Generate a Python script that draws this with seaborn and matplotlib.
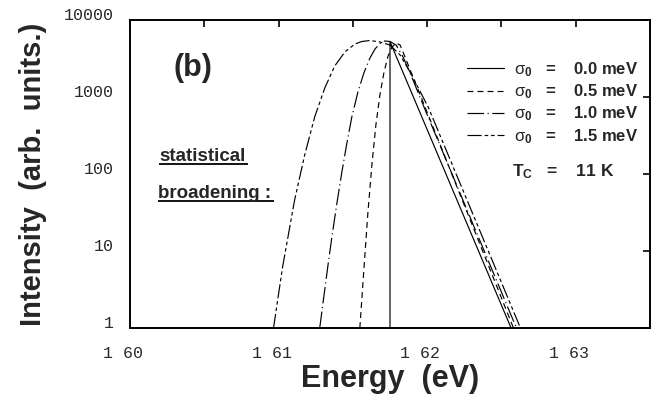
import matplotlib

matplotlib.use("Agg")

import matplotlib.pyplot as plt
import matplotlib.transforms as mtransforms
import pandas as pd
import seaborn as sns
from matplotlib.font_manager import FontProperties
from matplotlib.ticker import NullLocator


# values: energy (eV) and intensity (arb. units) per curve
SIGMA_LABELS = ["0.0", "0.5", "1.0", "1.5"]

E_S00 = [1.6175, 1.6175, 1.62565]
I_S00 = [1, 5230, 1]

E_S05 = [1.61547, 1.61574, 1.61601, 1.61628, 1.61655, 1.61682, 1.61710,
         1.61737, 1.61764, 1.61791, 1.61818, 1.61851, 1.62581]
I_S05 = [1, 5.7, 31, 131, 433, 1060, 2110, 3410, 4460, 5030, 4730, 3310, 1]

E_S10 = [1.61277, 1.61304, 1.61331, 1.61358, 1.61392, 1.61426, 1.61460,
         1.61493, 1.61534, 1.61574, 1.61615, 1.61649, 1.61682, 1.61716,
         1.61750, 1.61791, 1.61838, 1.61899, 1.61987, 1.62601]
I_S10 = [1, 2.5, 6.2, 14.8, 41, 106, 253, 550, 1160, 2050, 3210, 4200, 4950,
         5340, 5260, 4730, 3310, 1770, 678, 1]

E_S15 = [1.60966, 1.61027, 1.61108, 1.61176, 1.61243, 1.61311, 1.61378,
         1.61446, 1.61514, 1.61561, 1.61615, 1.61682, 1.61750, 1.61818,
         1.61885, 1.62007, 1.62628]
I_S15 = [1, 6.2, 46, 177, 550, 1310, 2530, 3840, 4880, 5260, 5420, 5180,
         4730, 3510, 2110, 741, 1]

X_TICKS = [1.600, 1.605, 1.610, 1.615, 1.620, 1.625, 1.630, 1.635]
X_TICK_LABELS = ["1 60", "", "1 61", "", "1 62", "", "1 63", ""]
Y_TICKS = [1, 10, 100, 1000, 10000]
Y_TICK_LABELS = ["1", "10", "100", "1000", "10000"]
TC_TEXT = "11 K"


def sigma_label(value: str) -> str:
    return r"$\mathrm{\sigma}_\mathbf{0}$   =    " + value + " meV"


def underline(ax, text) -> None:
    ax.figure.canvas.draw()
    bb = text.get_window_extent()
    inv = ax.transAxes.inverted()
    (x0, y0), (x1, _) = inv.transform([(bb.x0, bb.y0 + 1), (bb.x1 + 3, bb.y0 + 1)])
    ax.plot([x0, x1], [y0, y0], transform=ax.transAxes, color="black", lw=1.3,
            clip_on=False, solid_capstyle="butt")


def main() -> None:
    sns.set_theme(style="white")
    plt.rcParams["font.family"] = ["Liberation Sans", "DejaVu Sans"]
    plt.rcParams["mathtext.fontset"] = "custom"
    plt.rcParams["mathtext.rm"] = "Liberation Sans"
    plt.rcParams["mathtext.bf"] = "Liberation Sans:bold"
    plt.rcParams["mathtext.it"] = "Liberation Sans:italic"

    curves = [(E_S00, I_S00), (E_S05, I_S05), (E_S10, I_S10), (E_S15, I_S15)]
    frames = []
    for value, (energy, intensity) in zip(SIGMA_LABELS, curves):
        frames.append(pd.DataFrame({"energy": energy, "intensity": intensity,
                                    "curve": sigma_label(value)}))
    df = pd.concat(frames, ignore_index=True)
    order = [sigma_label(v) for v in SIGMA_LABELS]
    dashes = dict(zip(order, ["", (5, 3.5), (14, 3, 1, 3), (12, 2.5, 3, 2.5, 3, 2.5)]))

    fig = plt.figure(figsize=(6.66, 4.07), dpi=100)
    ax = fig.add_axes([130 / 666, 1 - 328 / 407, 520 / 666, 308 / 407])
    ax.set_yscale("log")

    sns.lineplot(data=df, x="energy", y="intensity", style="curve",
                 style_order=order, dashes=dashes, color="black", linewidth=0.85,
                 sort=False, estimator=None, ax=ax)

    ax.set_xlim(1.600, 1.635)
    ax.set_ylim(1, 10000)
    ax.set_xticks(X_TICKS)
    ax.set_xticklabels(X_TICK_LABELS)
    ax.set_yticks(Y_TICKS)
    ax.set_yticklabels(Y_TICK_LABELS)
    ax.yaxis.set_minor_locator(NullLocator())
    ax.xaxis.set_minor_locator(NullLocator())

    for side in ["left", "right", "top", "bottom"]:
        ax.spines[side].set_visible(True)
        ax.spines[side].set_color("black")
        ax.spines[side].set_linewidth(1.4)
    ax.tick_params(axis="both", which="major", direction="in", length=5, width=1.2,
                   color="black", top=True, right=True, labelsize=12,
                   labelcolor="#2a2a2a")
    ax.tick_params(axis="x", pad=13)
    ax.tick_params(axis="y", pad=12)

    dy = mtransforms.ScaledTranslation(0, 4 / 72, fig.dpi_scale_trans)
    for label in ax.get_yticklabels():
        label.set_fontfamily("Liberation Mono")
        label.set_transform(label.get_transform() + dy)
    dx = mtransforms.ScaledTranslation(-5 / 72, 0, fig.dpi_scale_trans)
    for label in ax.get_xticklabels():
        label.set_fontfamily("Liberation Mono")
        label.set_transform(label.get_transform() + dx)

    ax.set_xlabel("Energy  (eV)", fontsize=22, fontweight="bold", labelpad=2)
    ax.set_ylabel("Intensity  (arb.  units.)", fontsize=21, fontweight="bold",
                  labelpad=12)

    handles, labels = ax.get_legend_handles_labels()
    ax.legend(handles, labels, loc="upper left", bbox_to_anchor=(0.648, 0.87),
              frameon=False, handlelength=2.2, handletextpad=0.6,
              labelspacing=0.22, borderpad=0, borderaxespad=0,
              prop=FontProperties(family="Liberation Sans", weight="bold", size=12))

    ax.text(0.734, (328 - 172) / 308, r"$\mathbf{T_C}$   =    " + TC_TEXT,
            transform=ax.transAxes, fontsize=12.5, fontweight="bold",
            ha="left", va="center")
    ax.text(0.121, 0.845, "(b)", transform=ax.transAxes, fontsize=22,
            fontweight="bold", ha="center", va="center")

    t1 = ax.text(0.056, 0.542, "statistical", transform=ax.transAxes,
                 fontsize=13.5, fontweight="bold", ha="left", va="baseline")
    t2 = ax.text(0.054, 0.422, "broadening :", transform=ax.transAxes,
                 fontsize=13.5, fontweight="bold", ha="left", va="baseline")
    underline(ax, t1)
    underline(ax, t2)

    fig.savefig("out.png", dpi=100)
    plt.close(fig)


if __name__ == "__main__":
    main()
